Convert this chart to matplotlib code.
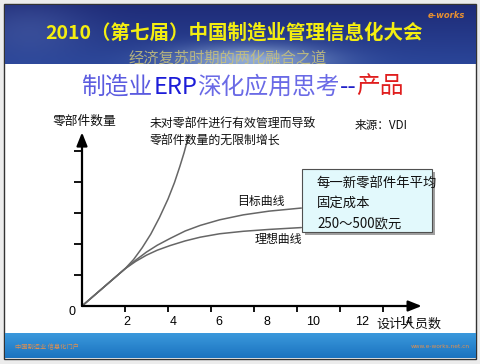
import numpy as np
import matplotlib
matplotlib.use('Agg')
import matplotlib.pyplot as plt
from matplotlib.patches import Rectangle

plt.rcParams['font.family'] = ['Noto Sans CJK SC', 'DejaVu Sans']

# ---------------- data ----------------
banner_title = "2010（第七届）中国制造业管理信息化大会"
banner_sub = "经济复苏时期的两化融合之道"
title_parts = ["制造业", "ERP", "深化应用思考", "--", "产品"]
title_colors = ["#5b5be0", "#1c1cd8", "#6a6ae6", "#2020c8", "#e01e1e"]
y_label = "零部件数量"
x_label = "设计人员数"
source_text = "来源：VDI"
note_unlimited = "未对零部件进行有效管理而导致\n零部件数量的无限制增长"
label_target = "目标曲线"
label_ideal = "理想曲线"
box_lines = ["每一新零部件年平均", "固定成本", "250～500欧元"]

x_ticks = [2, 4, 6, 8, 10, 12, 14]
x_tick_labels = ["2", "4", "6", "8", "10", "12", "14"]
x_tick_label_pos = [2.09, 4.23, 6.37, 8.60, 10.74, 13.02, 15.07]
y_ticks = [1, 2, 3, 4, 5]

unlimited_x = [0, 1.0, 2.0, 2.4, 2.8, 3.2, 3.6, 4.0, 4.3, 4.55, 4.75, 4.93]
unlimited_y = [0, 0.6, 1.2, 1.5, 1.88, 2.32, 2.85, 3.45, 3.98, 4.5, 4.95, 5.42]

target_x = [0, 1.0, 2.0, 2.5, 3.0, 3.5, 4.1, 4.8, 5.5, 6.4, 7.5, 8.7, 10.2]
target_y = [0, 0.6, 1.2, 1.48, 1.74, 1.96, 2.18, 2.42, 2.6, 2.78, 2.94, 3.06, 3.16]

ideal_x = [0, 1.0, 2.0, 2.5, 3.0, 3.5, 4.1, 4.8, 5.5, 6.4, 7.5, 8.7, 10.2]
ideal_y = [0, 0.6, 1.2, 1.44, 1.64, 1.8, 1.95, 2.1, 2.22, 2.33, 2.41, 2.47, 2.53]

# ---------------- figure ----------------
W, H = 481, 364
fig = plt.figure(figsize=(W / 100, H / 100), dpi=100)
fig.patch.set_facecolor('#ececec')

bg = fig.add_axes([0, 0, 1, 1], zorder=0)
bg.axis('off')

# slide
bg.add_patch(Rectangle((4, 4), 472, 355, facecolor='white', edgecolor='#333333', lw=1.0, zorder=1))

# top banner gradient
ny, nx = 60, 200
yy, xx = np.mgrid[0:1:ny * 1j, 0:1:nx * 1j]
c_top = np.array([0x1f, 0x2c, 0x78]) / 255
c_bot = np.array([0x2a, 0x45, 0x98]) / 255
img = c_top[None, None, :] * (1 - yy[..., None]) + c_bot[None, None, :] * yy[..., None]
blob = np.exp(-(((xx - 0.52) / 0.16) ** 2 + ((yy - 0.95) / 0.25) ** 2))
light = np.array([0.70, 0.80, 0.92])
img = img * (1 - 0.75 * blob[..., None]) + light[None, None, :] * 0.75 * blob[..., None]
left = np.exp(-(((xx - 0.05) / 0.12) ** 2 + ((yy - 0.4) / 0.5) ** 2))
img = img * (1 - 0.25 * left[..., None]) + np.array([0.45, 0.55, 0.8])[None, None, :] * 0.25 * left[..., None]
bg.imshow(img, extent=(5, 476, 64, 5), aspect='auto', zorder=2, interpolation='bilinear')

# bottom banner gradient
ny2, nx2 = 20, 200
yy2, xx2 = np.mgrid[0:1:ny2 * 1j, 0:1:nx2 * 1j]
b1 = np.array([0x3a, 0x98, 0xdc]) / 255
b2 = np.array([0x1c, 0x74, 0xc0]) / 255
img2 = b1[None, None, :] * (1 - yy2[..., None]) + b2[None, None, :] * yy2[..., None]
bg.imshow(img2, extent=(5, 476, 358, 333), aspect='auto', zorder=2, interpolation='bilinear')

bg.set_xlim(0, W)
bg.set_ylim(H, 0)

# banner texts
bg.text(234, 33, banner_title, color='#f4ee10', fontsize=14.0, fontweight='heavy',
        ha='center', va='center', zorder=3)
bg.text(228, 58, banner_sub, color='#c9c27a', fontsize=11, ha='center', va='center',
        zorder=3, alpha=0.85)
bg.text(446, 15, "e-works", color='#e89030', fontsize=6, fontstyle='italic',
        fontweight='bold', ha='center', va='center', zorder=3, family='DejaVu Sans')
bg.text(15, 347, "中国制造业 信息化门户", color='#e09050', fontsize=4.5, ha='left',
        va='center', zorder=3)
bg.text(470, 347, "www.e-works.net.cn", color='#e09050', fontsize=4.2, ha='right',
        va='center', zorder=3, family='DejaVu Sans')

# ---------------- chart axes ----------------
xu, yu = 21.5, 31.0
x0, y0 = 82, 306
xmax, ymax = 15.8, 5.6
ax = fig.add_axes([x0 / W, (H - y0) / H, xmax * xu / W, ymax * yu / H], zorder=2)
ax.patch.set_alpha(0)
ax.set_xlim(0, xmax)
ax.set_ylim(0, ymax)
for s in ax.spines.values():
    s.set_visible(False)

curve_kw = dict(color='#666666', lw=1.1, solid_capstyle='round')
ax.plot(unlimited_x, unlimited_y, **curve_kw)
ax.plot(target_x, target_y, **curve_kw)
ax.plot(ideal_x, ideal_y, **curve_kw)

arrow_kw = dict(arrowstyle='-|>,head_length=0.8,head_width=0.32', color='black', lw=1.6,
                shrinkA=0, shrinkB=0)
ax.annotate('', xy=(1, 0), xytext=(0, 0), xycoords='axes fraction',
            arrowprops=arrow_kw, annotation_clip=False)
ax.annotate('', xy=(0, 1), xytext=(0, 0), xycoords='axes fraction',
            arrowprops=arrow_kw, annotation_clip=False)

ax.set_xticks(x_ticks, minor=True)
ax.set_xticks(x_tick_label_pos)
ax.set_xticklabels(x_tick_labels, family='Liberation Sans', fontsize=9)
ax.tick_params(axis='x', which='major', length=0, pad=7)
ax.tick_params(axis='x', which='minor', direction='out', length=4, width=1.3, color='black')
ax.set_yticks(y_ticks)
ax.set_yticklabels([])
ax.tick_params(axis='y', direction='out', length=6, width=1.3, color='black')
ax.annotate('0', xy=(0, 0), xycoords='data', xytext=(-7, -4), textcoords='offset points',
            ha='center', va='center', fontsize=9, family='Liberation Sans', annotation_clip=False)

# ---------------- overlay texts ----------------
ov = fig.add_axes([0, 0, 1, 1], zorder=3)
ov.axis('off')
ov.set_xlim(0, W)
ov.set_ylim(H, 0)

# title multi-colour
prev = ov.text(82, 94, title_parts[0], color=title_colors[0], fontsize=17.1,
               ha='left', va='baseline')
for part, col in zip(title_parts[1:], title_colors[1:]):
    prev = ov.annotate(part, xy=(1, 0), xycoords=prev, ha='left', va='bottom',
                       color=col, fontsize=17.1)

ov.text(84, 121, y_label, fontsize=9.2, ha='center', va='center', color='#111111')
ov.text(376, 324, x_label, fontsize=9.4, ha='left', va='center', color='#111111')
ov.text(355, 125, source_text, fontsize=8.4, ha='left', va='center', color='#111111')
ov.text(150, 132, note_unlimited, fontsize=8.6, ha='left', va='center', color='#111111',
        linespacing=1.35)
ov.text(237, 201, label_target, fontsize=8.6, ha='left', va='center', color='#111111')
ov.text(255, 239, label_ideal, fontsize=8.6, ha='left', va='center', color='#111111')

ov.add_patch(Rectangle((305, 172), 130, 63, facecolor='#a0a0a0', edgecolor='none', zorder=1))
ov.add_patch(Rectangle((302, 169), 130, 63, facecolor='#e2f9fc', edgecolor='#505050',
                       lw=0.8, zorder=2))
for i, line in enumerate(box_lines):
    ov.text(317, 183 + 20 * i, line, fontsize=9.6, ha='left', va='center', color='#111111',
            zorder=3)

fig.savefig('out.png', dpi=100, facecolor=fig.get_facecolor())
